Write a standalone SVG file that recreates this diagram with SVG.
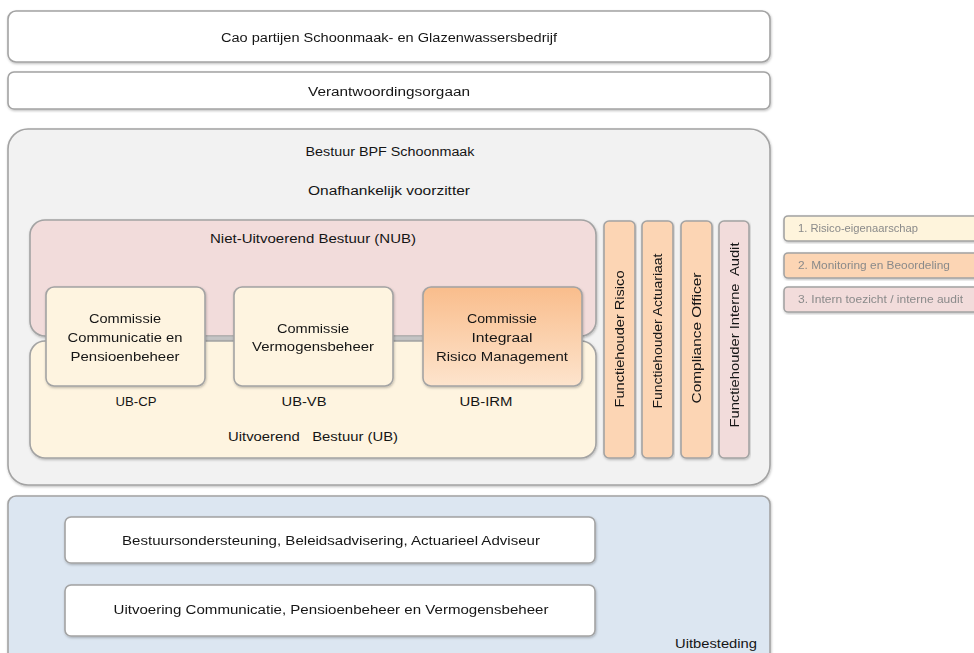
<svg xmlns="http://www.w3.org/2000/svg" width="974" height="653" viewBox="0 0 974 653">
<defs>
<style>
text{font-family:"Liberation Sans",Arial,sans-serif;font-size:12.5px;fill:#151515;text-anchor:middle}
.box{stroke:#a3a3a3;stroke-width:1.6}
.lg{font-size:10px;fill:#8a8a8a;text-anchor:start}
.sh{filter:url(#sh)}
</style>
<filter id="sh" x="-5%" y="-5%" width="110%" height="115%">
<feDropShadow dx="0.6" dy="1.2" stdDeviation="0.8" flood-color="#000" flood-opacity="0.25"/>
</filter>
<linearGradient id="irm" x1="0" y1="0" x2="0" y2="1">
<stop offset="0" stop-color="#f9bd8c"/>
<stop offset="1" stop-color="#fde4cd"/>
</linearGradient>
</defs>
<rect width="974" height="653" fill="#fff"/>

<g id="cao" class="sh">
<rect class="box" x="8" y="11" width="762" height="51" rx="8" fill="#fff"/>
<text x="389" y="42" textLength="336" lengthAdjust="spacingAndGlyphs">Cao partijen Schoonmaak- en Glazenwassersbedrijf</text>
</g>
<g id="verantwoordingsorgaan" class="sh">
<rect class="box" x="8" y="72" width="762" height="37" rx="6" fill="#fff"/>
<text x="389" y="96" textLength="162" lengthAdjust="spacingAndGlyphs">Verantwoordingsorgaan</text>
</g>

<g id="bestuur">
<rect class="box sh" x="8" y="129" width="762" height="356" rx="20" fill="#f2f2f2"/>
<text x="390" y="156" textLength="169" lengthAdjust="spacingAndGlyphs">Bestuur BPF Schoonmaak</text>
<text x="389" y="195" textLength="162" lengthAdjust="spacingAndGlyphs">Onafhankelijk voorzitter</text>
</g>

<g id="nub">
<rect class="box sh" x="30" y="220" width="566" height="116" rx="15" fill="#f2dcdb"/>
<text x="313" y="243" textLength="206" lengthAdjust="spacingAndGlyphs">Niet-Uitvoerend Bestuur (NUB)</text>
</g>
<rect x="46" y="336.5" width="536" height="5" fill="#c4c4c4"/>
<g id="ub">
<rect class="box sh" x="30" y="341" width="566" height="117" rx="15" fill="#fef4e0"/>
<text x="313" y="441" textLength="170" lengthAdjust="spacingAndGlyphs" xml:space="preserve">Uitvoerend   Bestuur (UB)</text>
<text x="136" y="406" textLength="41" lengthAdjust="spacingAndGlyphs">UB-CP</text>
<text x="304" y="406" textLength="45" lengthAdjust="spacingAndGlyphs">UB-VB</text>
<text x="486" y="406" textLength="53" lengthAdjust="spacingAndGlyphs">UB-IRM</text>
</g>

<g id="commissie-cp" class="sh">
<rect class="box" x="46" y="287" width="159" height="99" rx="8" fill="#fef4e0"/>
<text x="125" y="323" textLength="72" lengthAdjust="spacingAndGlyphs">Commissie</text>
<text x="125" y="342" textLength="115" lengthAdjust="spacingAndGlyphs">Communicatie en</text>
<text x="125" y="361" textLength="109" lengthAdjust="spacingAndGlyphs">Pensioenbeheer</text>
</g>
<g id="commissie-vb" class="sh">
<rect class="box" x="234" y="287" width="159" height="99" rx="8" fill="#fef4e0"/>
<text x="313" y="333" textLength="72" lengthAdjust="spacingAndGlyphs">Commissie</text>
<text x="313" y="351" textLength="122" lengthAdjust="spacingAndGlyphs">Vermogensbeheer</text>
</g>
<g id="commissie-irm" class="sh">
<rect class="box" x="423" y="287" width="159" height="99" rx="8" fill="url(#irm)"/>
<text x="502" y="323" textLength="70" lengthAdjust="spacingAndGlyphs">Commissie</text>
<text x="502" y="342" textLength="61" lengthAdjust="spacingAndGlyphs">Integraal</text>
<text x="502" y="361" textLength="132" lengthAdjust="spacingAndGlyphs">Risico Management</text>
</g>

<g id="functiehouder-risico" class="sh">
<rect class="box" x="604" y="221" width="31" height="237" rx="5" fill="#fcd5b4"/>
<text transform="rotate(-90 619.5 339)" x="619.5" y="343.5" textLength="137" lengthAdjust="spacingAndGlyphs">Functiehouder Risico</text>
</g>
<g id="functiehouder-actuariaat" class="sh">
<rect class="box" x="642" y="221" width="31" height="237" rx="5" fill="#fcd5b4"/>
<text transform="rotate(-90 657.5 331)" x="657.5" y="335.5" textLength="155" lengthAdjust="spacingAndGlyphs">Functiehouder Actuariaat</text>
</g>
<g id="compliance-officer" class="sh">
<rect class="box" x="681" y="221" width="31" height="237" rx="5" fill="#fcd5b4"/>
<text transform="rotate(-90 696.5 338)" x="696.5" y="342.5" textLength="131" lengthAdjust="spacingAndGlyphs">Compliance Officer</text>
</g>
<g id="functiehouder-interne-audit" class="sh">
<rect class="box" x="719" y="221" width="30" height="237" rx="5" fill="#f2dcdb"/>
<text transform="rotate(-90 734 335)" x="734" y="339.5" textLength="185" lengthAdjust="spacingAndGlyphs" xml:space="preserve">Functiehouder Interne  Audit</text>
</g>

<g id="uitbesteding">
<rect class="box sh" x="8" y="496" width="762" height="175" rx="8" fill="#dce6f1"/>
<text x="716" y="648" textLength="82" lengthAdjust="spacingAndGlyphs">Uitbesteding</text>
</g>
<g id="bestuursondersteuning" class="sh">
<rect class="box" x="65" y="517" width="530" height="46" rx="6" fill="#fff"/>
<text x="331" y="545" textLength="418" lengthAdjust="spacingAndGlyphs">Bestuursondersteuning, Beleidsadvisering, Actuarieel Adviseur</text>
</g>
<g id="uitvoering" class="sh">
<rect class="box" x="65" y="585" width="530" height="51" rx="6" fill="#fff"/>
<text x="331" y="614" textLength="435" lengthAdjust="spacingAndGlyphs">Uitvoering Communicatie, Pensioenbeheer en Vermogensbeheer</text>
</g>

<g id="legend">
<g id="legend-1" class="sh">
<rect class="box" x="784" y="216" width="200" height="25" rx="4" fill="#fef4dc"/>
<text class="lg" x="798" y="232" textLength="120" lengthAdjust="spacingAndGlyphs">1. Risico-eigenaarschap</text>
</g>
<g id="legend-2" class="sh">
<rect class="box" x="784" y="253" width="200" height="25" rx="4" fill="#fcd5b4"/>
<text class="lg" x="798" y="269" textLength="152" lengthAdjust="spacingAndGlyphs">2. Monitoring en Beoordeling</text>
</g>
<g id="legend-3" class="sh">
<rect class="box" x="784" y="287" width="200" height="25" rx="4" fill="#f2dcdb"/>
<text class="lg" x="798" y="303" textLength="165" lengthAdjust="spacingAndGlyphs">3. Intern toezicht / interne audit</text>
</g>
</g>
<g id="connectors"/>
</svg>
